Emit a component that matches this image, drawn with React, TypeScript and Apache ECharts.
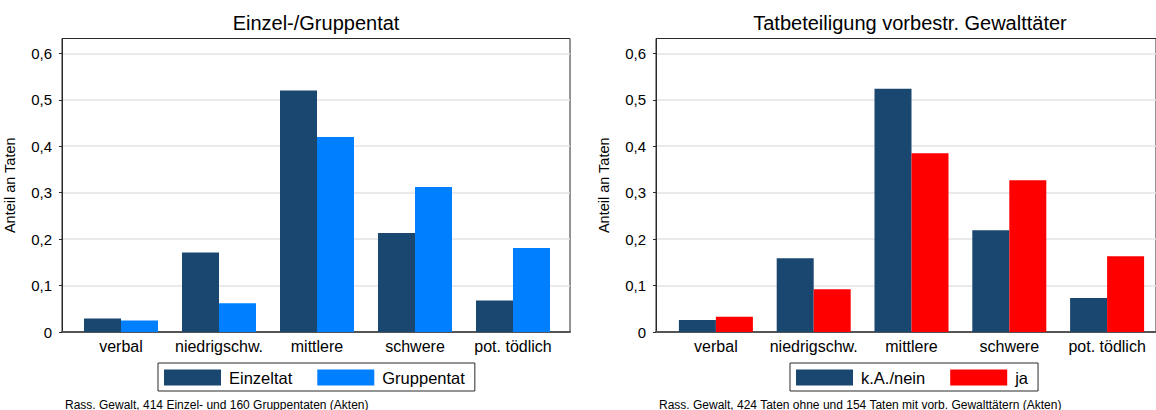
import React, { useEffect, useRef } from "react";
import * as echarts from "echarts";

const categories = ["verbal", "niedrigschw.", "mittlere", "schwere", "pot. tödlich"];
const einzeltat = [0.029, 0.171, 0.52, 0.213, 0.068];
const gruppentat = [0.025, 0.062, 0.42, 0.312, 0.181];
const kaNein = [0.026, 0.159, 0.524, 0.219, 0.073];
const ja = [0.033, 0.092, 0.385, 0.327, 0.163];
const yTicks = [0, 0.1, 0.2, 0.3, 0.4, 0.5, 0.6];
const titles = ["Einzel-/Gruppentat", "Tatbeteiligung vorbestr. Gewalttäter"];
const notes = [
  "Rass. Gewalt, 414 Einzel- und 160 Gruppentaten (Akten)",
  "Rass. Gewalt, 424 Taten ohne und 154 Taten mit vorb. Gewalttätern (Akten)",
];

const FONT = "'Liberation Sans', Arial, Helvetica, sans-serif";
const NAVY = "#1a476f";
const LBLUE = "#0080ff";
const RED = "#ff0000";
const YMAX = 0.632;

export default function App() {
  const ref = useRef<HTMLDivElement>(null);
  useEffect(() => {
    if (!ref.current) return;
    const chart = echarts.init(ref.current, undefined, { renderer: "svg" });
    const panels = [
      { boxLeft: 62, barLeft: 72, s: [{ n: "Einzeltat", d: einzeltat, c: NAVY }, { n: "Gruppentat", d: gruppentat, c: LBLUE }], legendLeft: 158 },
      { boxLeft: 656, barLeft: 667, s: [{ n: "k.A./nein", d: kaNein, c: NAVY }, { n: "ja", d: ja, c: RED }], legendLeft: 790 },
    ];
    const grids: any[] = [];
    const xAxes: any[] = [];
    const yAxes: any[] = [];
    const series: any[] = [];
    const legends: any[] = [];
    const graphics: any[] = [];
    const fmt = (v: number) => (v === 0 ? "0" : v.toFixed(1).replace(".", ","));
    panels.forEach((p, i) => {
      const gBox = grids.length;
      grids.push({
        left: p.boxLeft, top: 38.5, width: 508, height: 293.5,
        show: true, borderColor: "#2a2a2a", borderWidth: 1, backgroundColor: "#fff",
      });
      const gBar = grids.length;
      grids.push({ left: p.barLeft, top: 38.5, width: 490, height: 293.5 });
      xAxes.push({
        gridIndex: gBox, type: "value", min: 0, max: 1, position: "bottom",
        axisLine: { show: true, lineStyle: { color: "#555", width: 2 } },
        axisTick: { show: false }, axisLabel: { show: false }, splitLine: { show: false },
      });
      xAxes.push({
        gridIndex: gBar, type: "category", data: categories,
        axisLine: { show: false }, axisTick: { show: false }, splitLine: { show: false },
        axisLabel: { color: "#000", fontSize: 16, fontFamily: FONT, margin: 6, interval: 0 },
      });
      yAxes.push({
        gridIndex: gBox, type: "value", min: 0, max: YMAX,
        name: "Anteil an Taten", nameLocation: "middle", nameRotate: 90, nameGap: 45,
        nameTextStyle: { color: "#000", fontSize: 14.5, fontFamily: FONT },
        axisLine: { show: true, lineStyle: { color: "#2a2a2a", width: 1 } },
        axisTick: { show: true, length: 3, lineStyle: { color: "#2a2a2a" }, customValues: yTicks },
        axisLabel: { color: "#000", fontSize: 15, fontFamily: FONT, margin: 10, formatter: fmt, customValues: yTicks },
        splitLine: { show: true, lineStyle: { color: "#e3e3e3", width: 1.5 } },
      });
      yAxes.push({
        gridIndex: gBar, type: "value", min: 0, max: YMAX, show: false,
        splitLine: { show: false },
      });
      p.s.forEach((s) => {
        series.push({
          type: "bar", name: s.n, data: s.d, xAxisIndex: gBar, yAxisIndex: gBar,
          barWidth: 37, barGap: "0%", itemStyle: { color: s.c }, z: 3,
        });
      });
      legends.push({
        data: p.s.map((s) => s.n), left: p.legendLeft, top: 363, orient: "horizontal",
        itemWidth: 57, itemHeight: 16, itemGap: 25, icon: "rect",
        padding: [6, 10, 5, 6], borderColor: "#2a2a2a", borderWidth: 1, backgroundColor: "#fff",
        textStyle: { color: "#000", fontSize: 16.5, fontFamily: FONT, padding: [0, 0, 0, 3] },
        selectedMode: false,
      });
      const cx = p.boxLeft + 254;
      graphics.push({
        type: "text", x: cx, y: 23,
        style: { text: titles[i], fill: "#000", font: `20px ${FONT}`, textAlign: "center", textVerticalAlign: "middle" },
      });
      graphics.push({
        type: "text", x: p.boxLeft + 3, y: 404.5,
        style: { text: notes[i], fill: "#000", font: `12px ${FONT}`, textAlign: "left", textVerticalAlign: "middle" },
      });
    });
    chart.setOption({
      animation: false,
      backgroundColor: "#fff",
      grid: grids,
      xAxis: xAxes,
      yAxis: yAxes,
      series,
      legend: legends,
      graphic: graphics,
    });
    return () => chart.dispose();
  }, []);
  return <div ref={ref} style={{ position: "absolute", left: 0, top: 0, width: 1156, height: 410 }} />;
}
